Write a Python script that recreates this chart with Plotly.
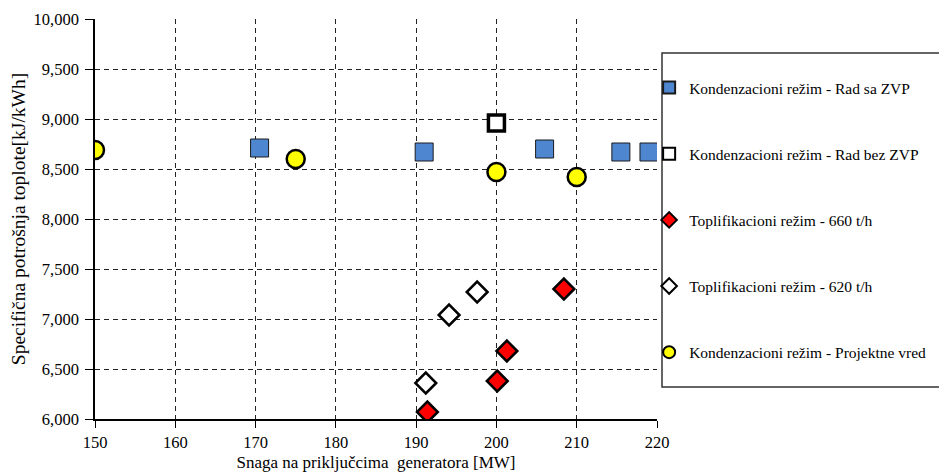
import plotly.graph_objects as go

# Data
zvp_x = [170.5, 191, 206, 215.5, 219]
zvp_y = [8710, 8670, 8700, 8670, 8670]

bez_x = [200]
bez_y = [8960]

t660_x = [208.4, 201.3, 200.1, 191.4]
t660_y = [7300, 6680, 6380, 6070]

t620_x = [197.6, 194.1, 191.2]
t620_y = [7270, 7040, 6360]

proj_x = [150, 175, 200, 210]
proj_y = [8690, 8600, 8470, 8420]

names = [
    "Kondenzacioni režim - Rad sa ZVP",
    "Kondenzacioni režim - Rad bez ZVP",
    "Toplifikacioni režim - 660 t/h",
    "Toplifikacioni režim - 620 t/h",
    "Kondenzacioni režim - Projektne vred",
]

x_ticks = [150, 160, 170, 180, 190, 200, 210, 220]
y_ticks = [6000, 6500, 7000, 7500, 8000, 8500, 9000, 9500, 10000]

FONT = "Liberation Serif"

fig = go.Figure()
fig.add_trace(go.Scatter(x=zvp_x, y=zvp_y, mode="markers", name=names[0], legendgroup="a",
                         marker=dict(symbol="square", size=18, color="#4F86D0",
                                     line=dict(color="#1a1a1a", width=1))))
fig.add_trace(go.Scatter(x=bez_x, y=bez_y, mode="markers", name=names[1], legendgroup="b",
                         marker=dict(symbol="square", size=16, color="white",
                                     line=dict(color="black", width=3.5))))
fig.add_trace(go.Scatter(x=t660_x, y=t660_y, mode="markers", name=names[2], legendgroup="c",
                         marker=dict(symbol="diamond", size=16, color="#FF0000",
                                     line=dict(color="black", width=2.5))))
fig.add_trace(go.Scatter(x=t620_x, y=t620_y, mode="markers", name=names[3], legendgroup="d",
                         marker=dict(symbol="diamond", size=16, color="white",
                                     line=dict(color="black", width=2.5))))
fig.add_trace(go.Scatter(x=proj_x, y=proj_y, mode="markers", name=names[4], legendgroup="e",
                         marker=dict(symbol="circle", size=18, color="#FFFF00",
                                     line=dict(color="black", width=2.5))))

grid = dict(showgrid=True, gridcolor="#222222", gridwidth=1, griddash="5px,4px")

# legend frame (the reference frame runs past the right edge of the image)
fig.add_shape(type="rect", xref="paper", yref="paper", x0=1.0089, x1=1.53, y0=0.08, y1=0.915,
              line=dict(color="#333333", width=1.5), fillcolor="rgba(0,0,0,0)", layer="below")

fig.update_layout(
    width=939, height=467,
    margin=dict(l=87, r=290, t=11, b=56, autoexpand=False),
    plot_bgcolor="white", paper_bgcolor="white",
    font=dict(family=FONT, size=16, color="black"),
    legend=dict(x=0.986, xanchor="left", y=0.87, yanchor="top",
                borderwidth=0, bgcolor="rgba(0,0,0,0)",
                font=dict(family=FONT, size=15.5, color="black"),
                tracegroupgap=43, itemwidth=30, itemsizing="constant",
                traceorder="grouped"),
    xaxis=dict(range=[150, 220], tickvals=x_ticks, ticktext=[str(v) for v in x_ticks],
               showline=True, linecolor="black", linewidth=1.5, mirror=False,
               ticks="outside", ticklen=7, tickcolor="black", automargin=False,
               tickfont=dict(size=16.5),
               title=dict(text="Snaga na priključcima  generatora [MW]", font=dict(size=17), standoff=6),
               zeroline=False, **grid),
    yaxis=dict(range=[6000, 10000], tickvals=y_ticks, ticktext=[f"{v:,}" for v in y_ticks],
               showline=True, linecolor="black", linewidth=1.5, mirror=False,
               ticks="outside", ticklen=8, tickcolor="black", automargin=False,
               tickfont=dict(size=16.5), ticklabelstandoff=3,
               title=dict(text="Specifična potrošnja toplote[kJ/kWh]", font=dict(size=19.5), standoff=3),
               zeroline=False, **grid),
)

fig.write_html("out.html")
